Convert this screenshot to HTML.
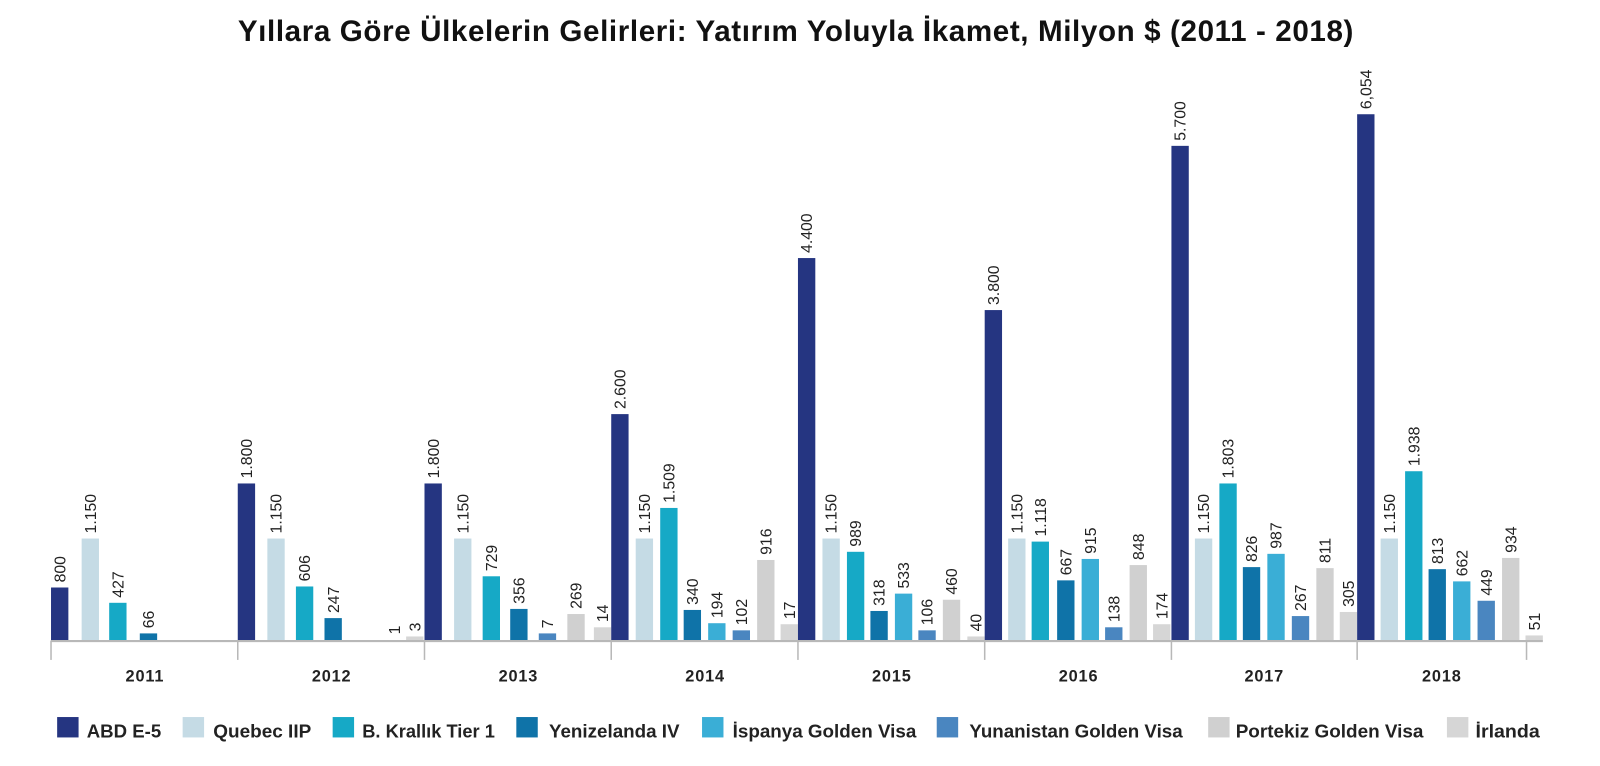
<!DOCTYPE html>
<html><head><meta charset="utf-8"><style>
html,body{margin:0;padding:0;background:#fff;width:1600px;height:766px;overflow:hidden}
svg{display:block}
text{font-family:"Liberation Sans",sans-serif}
.v{font-size:15.5px;fill:#222}
.y{font-size:16px;font-weight:bold;fill:#222;letter-spacing:0.8px}
.l{font-size:18px;font-weight:bold;fill:#222}
</style></head><body>
<svg width="1600" height="766" viewBox="0 0 1568 751" preserveAspectRatio="none">
<text x="780" y="40" text-anchor="middle" style="font-size:29px;font-weight:bold;fill:#111;letter-spacing:0.6px">Yıllara Göre Ülkelerin Gelirleri: Yatırım Yoluyla İkamet, Milyon $ (2011 - 2018)</text>
<g id="bars">
<rect x="50" y="576" width="17" height="52" fill="#253581"/>
<rect x="80" y="528" width="17" height="100" fill="#c5dbe5"/>
<rect x="107" y="591" width="17" height="37" fill="#16a9c6"/>
<rect x="137" y="621" width="17" height="7" fill="#0f73a8"/>
<rect x="233" y="474" width="17" height="154" fill="#253581"/>
<rect x="262" y="528" width="17" height="100" fill="#c5dbe5"/>
<rect x="290" y="575" width="17" height="53" fill="#16a9c6"/>
<rect x="318" y="606" width="17" height="22" fill="#0f73a8"/>
<rect x="398" y="624" width="17" height="4" fill="#d6d6d6"/>
<rect x="416" y="474" width="17" height="154" fill="#253581"/>
<rect x="445" y="528" width="17" height="100" fill="#c5dbe5"/>
<rect x="473" y="565" width="17" height="63" fill="#16a9c6"/>
<rect x="500" y="597" width="17" height="31" fill="#0f73a8"/>
<rect x="528" y="621" width="17" height="7" fill="#4a86c0"/>
<rect x="556" y="602" width="17" height="26" fill="#d0d0d0"/>
<rect x="582" y="615" width="17" height="13" fill="#d6d6d6"/>
<rect x="599" y="406" width="17" height="222" fill="#253581"/>
<rect x="623" y="528" width="17" height="100" fill="#c5dbe5"/>
<rect x="647" y="498" width="17" height="130" fill="#16a9c6"/>
<rect x="670" y="598" width="17" height="30" fill="#0f73a8"/>
<rect x="694" y="611" width="17" height="17" fill="#3aaed6"/>
<rect x="718" y="618" width="17" height="10" fill="#4a86c0"/>
<rect x="742" y="549" width="17" height="79" fill="#d0d0d0"/>
<rect x="765" y="612" width="17" height="16" fill="#d6d6d6"/>
<rect x="782" y="253" width="17" height="375" fill="#253581"/>
<rect x="806" y="528" width="17" height="100" fill="#c5dbe5"/>
<rect x="830" y="541" width="17" height="87" fill="#16a9c6"/>
<rect x="853" y="599" width="17" height="29" fill="#0f73a8"/>
<rect x="877" y="582" width="17" height="46" fill="#3aaed6"/>
<rect x="900" y="618" width="17" height="10" fill="#4a86c0"/>
<rect x="924" y="588" width="17" height="40" fill="#d0d0d0"/>
<rect x="948" y="624" width="17" height="4" fill="#d6d6d6"/>
<rect x="965" y="304" width="17" height="324" fill="#253581"/>
<rect x="988" y="528" width="17" height="100" fill="#c5dbe5"/>
<rect x="1011" y="531" width="17" height="97" fill="#16a9c6"/>
<rect x="1036" y="569" width="17" height="59" fill="#0f73a8"/>
<rect x="1060" y="548" width="17" height="80" fill="#3aaed6"/>
<rect x="1083" y="615" width="17" height="13" fill="#4a86c0"/>
<rect x="1107" y="554" width="17" height="74" fill="#d0d0d0"/>
<rect x="1130" y="612" width="17" height="16" fill="#d6d6d6"/>
<rect x="1148" y="143" width="17" height="485" fill="#253581"/>
<rect x="1171" y="528" width="17" height="100" fill="#c5dbe5"/>
<rect x="1195" y="474" width="17" height="154" fill="#16a9c6"/>
<rect x="1218" y="556" width="17" height="72" fill="#0f73a8"/>
<rect x="1242" y="543" width="17" height="85" fill="#3aaed6"/>
<rect x="1266" y="604" width="17" height="24" fill="#4a86c0"/>
<rect x="1290" y="557" width="17" height="71" fill="#d0d0d0"/>
<rect x="1313" y="600" width="17" height="28" fill="#d6d6d6"/>
<rect x="1330" y="112" width="17" height="516" fill="#253581"/>
<rect x="1353" y="528" width="17" height="100" fill="#c5dbe5"/>
<rect x="1377" y="462" width="17" height="166" fill="#16a9c6"/>
<rect x="1400" y="558" width="17" height="70" fill="#0f73a8"/>
<rect x="1424" y="570" width="17" height="58" fill="#3aaed6"/>
<rect x="1448" y="589" width="17" height="39" fill="#4a86c0"/>
<rect x="1472" y="547" width="17" height="81" fill="#d0d0d0"/>
<rect x="1495" y="623" width="17" height="5" fill="#d6d6d6"/>
</g>
<g>
<text class="v" transform="translate(64,571) rotate(-90)">800</text>
<text class="v" transform="translate(94,523) rotate(-90)">1.150</text>
<text class="v" transform="translate(121,586) rotate(-90)">427</text>
<text class="v" transform="translate(151,616) rotate(-90)">66</text>
<text class="v" transform="translate(247,469) rotate(-90)">1.800</text>
<text class="v" transform="translate(276,523) rotate(-90)">1.150</text>
<text class="v" transform="translate(304,570) rotate(-90)">606</text>
<text class="v" transform="translate(332,601) rotate(-90)">247</text>
<text class="v" transform="translate(392,622) rotate(-90)">1</text>
<text class="v" transform="translate(412,619) rotate(-90)">3</text>
<text class="v" transform="translate(430,469) rotate(-90)">1.800</text>
<text class="v" transform="translate(459,523) rotate(-90)">1.150</text>
<text class="v" transform="translate(487,560) rotate(-90)">729</text>
<text class="v" transform="translate(514,592) rotate(-90)">356</text>
<text class="v" transform="translate(542,616) rotate(-90)">7</text>
<text class="v" transform="translate(570,597) rotate(-90)">269</text>
<text class="v" transform="translate(596,610) rotate(-90)">14</text>
<text class="v" transform="translate(613,401) rotate(-90)">2.600</text>
<text class="v" transform="translate(637,523) rotate(-90)">1.150</text>
<text class="v" transform="translate(661,493) rotate(-90)">1.509</text>
<text class="v" transform="translate(684,593) rotate(-90)">340</text>
<text class="v" transform="translate(708,606) rotate(-90)">194</text>
<text class="v" transform="translate(732,613) rotate(-90)">102</text>
<text class="v" transform="translate(756,544) rotate(-90)">916</text>
<text class="v" transform="translate(779,607) rotate(-90)">17</text>
<text class="v" transform="translate(796,248) rotate(-90)">4.400</text>
<text class="v" transform="translate(820,523) rotate(-90)">1.150</text>
<text class="v" transform="translate(844,536) rotate(-90)">989</text>
<text class="v" transform="translate(867,594) rotate(-90)">318</text>
<text class="v" transform="translate(891,577) rotate(-90)">533</text>
<text class="v" transform="translate(914,613) rotate(-90)">106</text>
<text class="v" transform="translate(938,583) rotate(-90)">460</text>
<text class="v" transform="translate(962,619) rotate(-90)">40</text>
<text class="v" transform="translate(979,299) rotate(-90)">3.800</text>
<text class="v" transform="translate(1002,523) rotate(-90)">1.150</text>
<text class="v" transform="translate(1025,526) rotate(-90)">1.118</text>
<text class="v" transform="translate(1050,564) rotate(-90)">667</text>
<text class="v" transform="translate(1074,543) rotate(-90)">915</text>
<text class="v" transform="translate(1097,610) rotate(-90)">138</text>
<text class="v" transform="translate(1121,549) rotate(-90)">848</text>
<text class="v" transform="translate(1144,607) rotate(-90)">174</text>
<text class="v" transform="translate(1162,138) rotate(-90)">5.700</text>
<text class="v" transform="translate(1185,523) rotate(-90)">1.150</text>
<text class="v" transform="translate(1209,469) rotate(-90)">1.803</text>
<text class="v" transform="translate(1232,551) rotate(-90)">826</text>
<text class="v" transform="translate(1256,538) rotate(-90)">987</text>
<text class="v" transform="translate(1280,599) rotate(-90)">267</text>
<text class="v" transform="translate(1304,552) rotate(-90)">811</text>
<text class="v" transform="translate(1327,595) rotate(-90)">305</text>
<text class="v" transform="translate(1344,107) rotate(-90)">6,054</text>
<text class="v" transform="translate(1367,523) rotate(-90)">1.150</text>
<text class="v" transform="translate(1391,457) rotate(-90)">1.938</text>
<text class="v" transform="translate(1414,553) rotate(-90)">813</text>
<text class="v" transform="translate(1438,565) rotate(-90)">662</text>
<text class="v" transform="translate(1462,584) rotate(-90)">449</text>
<text class="v" transform="translate(1486,542) rotate(-90)">934</text>
<text class="v" transform="translate(1509,618) rotate(-90)">51</text>
</g>
<line x1="50" y1="628.5" x2="1512" y2="628.5" stroke="#b8b8b8" stroke-width="2"/>
<g stroke="#b8b8b8" stroke-width="1.5">
<line x1="50" y1="628" x2="50" y2="647"/><line x1="233" y1="628" x2="233" y2="647"/>
<line x1="416" y1="628" x2="416" y2="647"/><line x1="599" y1="628" x2="599" y2="647"/>
<line x1="782" y1="628" x2="782" y2="647"/><line x1="965" y1="628" x2="965" y2="647"/>
<line x1="1148" y1="628" x2="1148" y2="647"/><line x1="1330" y1="628" x2="1330" y2="647"/>
<line x1="1496" y1="628" x2="1496" y2="647"/>
</g>
<g text-anchor="middle">
<text class="y" x="142" y="668">2011</text><text class="y" x="325" y="668">2012</text>
<text class="y" x="508" y="668">2013</text><text class="y" x="691" y="668">2014</text>
<text class="y" x="874" y="668">2015</text><text class="y" x="1057" y="668">2016</text>
<text class="y" x="1239" y="668">2017</text><text class="y" x="1413" y="668">2018</text>
</g>
<g>
<rect x="56" y="703" width="21" height="20" fill="#253581"/><text class="l" x="85" y="723" textLength="73" lengthAdjust="spacingAndGlyphs">ABD E-5</text>
<rect x="179" y="703" width="21" height="20" fill="#c5dbe5"/><text class="l" x="209" y="723" textLength="96" lengthAdjust="spacingAndGlyphs">Quebec IIP</text>
<rect x="326" y="703" width="21" height="20" fill="#16a9c6"/><text class="l" x="355" y="723" textLength="130" lengthAdjust="spacingAndGlyphs">B. Krallık Tier 1</text>
<rect x="506" y="703" width="21" height="20" fill="#0f73a8"/><text class="l" x="538" y="723" textLength="128" lengthAdjust="spacingAndGlyphs">Yenizelanda IV</text>
<rect x="688" y="703" width="21" height="20" fill="#3aaed6"/><text class="l" x="718" y="723" textLength="180" lengthAdjust="spacingAndGlyphs">İspanya Golden Visa</text>
<rect x="918" y="703" width="21" height="20" fill="#4a86c0"/><text class="l" x="950" y="723" textLength="209" lengthAdjust="spacingAndGlyphs">Yunanistan Golden Visa</text>
<rect x="1184" y="703" width="21" height="20" fill="#d0d0d0"/><text class="l" x="1211" y="723" textLength="184" lengthAdjust="spacingAndGlyphs">Portekiz Golden Visa</text>
<rect x="1418" y="703" width="21" height="20" fill="#d6d6d6"/><text class="l" x="1446" y="723" textLength="63" lengthAdjust="spacingAndGlyphs">İrlanda</text>
</g>
</svg>
</body></html>
